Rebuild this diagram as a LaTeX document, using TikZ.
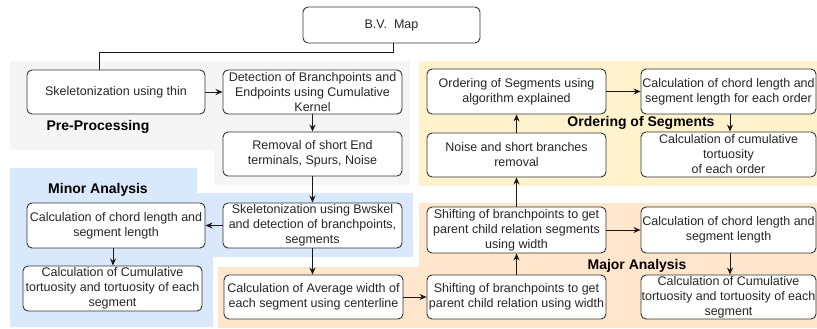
\documentclass[tikz,border=0pt]{standalone}
\usepackage{fontspec}
\setmainfont{Liberation Sans}
\usetikzlibrary{arrows.meta}
\definecolor{preGray}{HTML}{F5F5F5}
\definecolor{minBlue}{HTML}{DAE8FC}
\definecolor{ordYellow}{HTML}{FFF2CC}
\definecolor{majOrange}{HTML}{FFE6CC}
\definecolor{edgeCol}{HTML}{333333}
\tikzset{
  procbox/.style={draw=edgeCol, line width=0.9pt, rounded corners=5pt, fill=white,
    align=center, inner sep=0pt, text=black!85,
    font=\fontsize{12.5}{15}\selectfont,
    minimum width=179pt, minimum height=44pt},
  grouplabel/.style={font=\fontsize{14}{16}\selectfont\bfseries, text=black, inner sep=0pt},
  flow/.style={draw=black!90, line width=0.9pt, -{Stealth[length=7pt,width=6pt]}},
}
\begin{document}
\begin{tikzpicture}[x=1pt,y=-1pt]
\useasboundingbox (0,0) rectangle (817,329);
% regions
\fill[preGray] (10,61) -- (410,61) -- (410,185) -- (214,185) -- (214,150) -- (10,150) -- cycle;
\fill[minBlue] (10,168) -- (197,168) -- (197,193) -- (413,193) -- (413,257) -- (213,257) -- (213,327) -- (10,327) -- cycle;
\fill[ordYellow] (419,61) rectangle (817,186);
\fill[majOrange] (419,203) -- (817,203) -- (817,328) -- (218,328) -- (218,267) -- (419,267) -- cycle;
% group labels
\node[grouplabel] (lpre) at (98,127) {Pre-Processing};
\node[grouplabel] (lmin) at (98,190) {Minor Analysis};
\node[grouplabel] (lord) at (641,123) {Ordering of Segments};
\node[grouplabel] (lmaj) at (637,266) {Major Analysis};
% boxes
\node[procbox, minimum width=177pt, minimum height=36pt] (bv) at (391.5,25) {B.V.\ \ Map};
\node[procbox, minimum width=178pt] (skel) at (116,92) {Skeletonization using thin};
\node[procbox] (det) at (312.5,92) {Detection of Branchpoints and\\Endpoints using Cumulative\\Kernel};
\node[procbox] (rem) at (312.5,154) {Removal of short End\\terminals, Spurs, Noise};
\node[procbox, minimum height=45pt] (bws) at (312.5,225.5) {Skeletonization using Bwskel\\and detection of branchpoints,\\segments};
\node[procbox, minimum width=178pt, minimum height=45pt] (mch) at (116,225.5) {Calculation of chord length and\\segment length};
\node[procbox, minimum height=45pt] (mcum) at (112.5,288.5) {Calculation of Cumulative\\tortuosity and tortuosity of each\\segment};
\node[procbox] (avg) at (313.5,297) {Calculation of Average width of\\each segment using centerline};
\node[procbox] (shw) at (516.5,297) {Shifting of branchpoints to get\\parent child relation using width};
\node[procbox, minimum height=46pt] (shs) at (516.5,230) {Shifting of branchpoints to get\\parent child relation segments\\using width};
\node[procbox, minimum width=175pt, minimum height=46pt] (jch) at (728.5,230) {Calculation of chord length and\\segment length};
\node[procbox, minimum width=175pt] (jcum) at (728.5,297) {Calculation of Cumulative\\tortuosity and tortuosity of each\\segment};
\node[procbox] (noise) at (516.5,155) {Noise and short branches\\removal};
\node[procbox, minimum height=45pt] (ord) at (516.5,91.5) {Ordering of Segments using\\algorithm explained};
\node[procbox, minimum width=175pt, minimum height=45pt] (och) at (728.5,91.5) {Calculation of chord length and\\segment length for each order};
\node[procbox, minimum width=175pt, minimum height=45pt] (ocum) at (728.5,154.5) {Calculation of cumulative\\tortuosity\\of each order};
% connectors
\coordinate (bvturn) at (393,52);
\draw[draw=black!90, line width=0.9pt] (bv.south -| bvturn) -- (bvturn) -- (99,52) -- (skel.north -| 99,0);
\draw[flow] (skel) -- (det);
\draw[flow] (det) -- (rem);
\draw[flow] (rem) -- (bws);
\draw[flow] (bws) -- (mch);
\draw[flow] (mch.south -| 113,0) -- (mcum.north -| 113,0);
\draw[flow] (bws) -- (avg.north -| bws.south);
\draw[flow] (avg) -- (shw);
\draw[flow] (shw) -- (shs);
\draw[flow] (shs) -- (jch);
\draw[flow] (jch.south -| 730,0) -- (jcum.north -| 730,0);
\draw[flow] (shs) -- (noise);
\draw[flow] (noise) -- (ord);
\draw[flow] (ord) -- (och);
\draw[flow] (och.south -| 730,0) -- (ocum.north -| 730,0);
\end{tikzpicture}
\end{document}
